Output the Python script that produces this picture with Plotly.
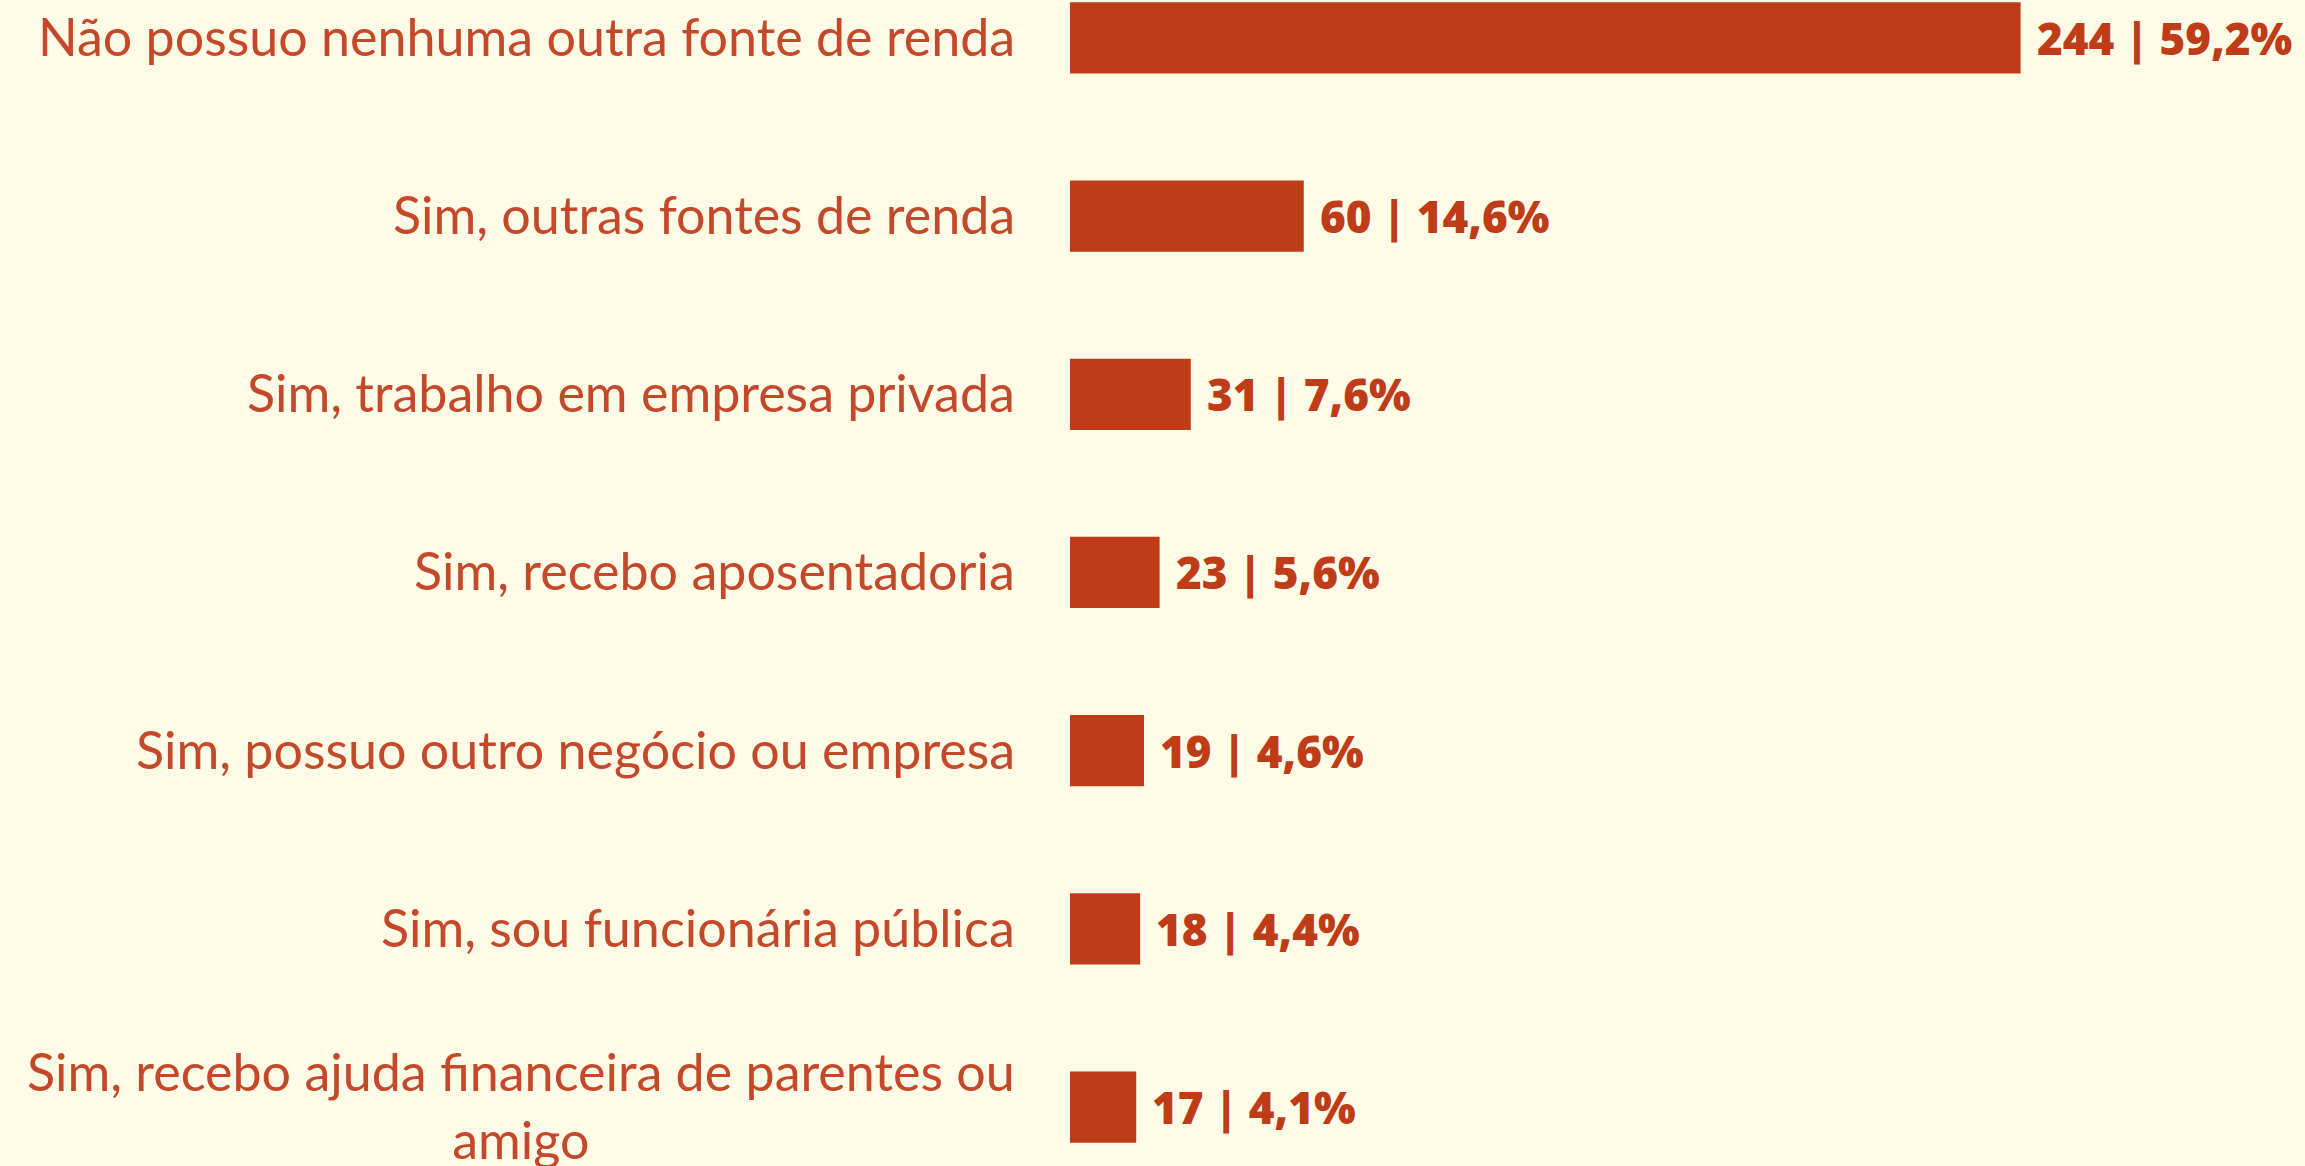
import plotly.graph_objects as go

categorias = [
    "Não possuo nenhuma outra fonte de renda",
    "Sim, outras fontes de renda",
    "Sim, trabalho em empresa privada",
    "Sim, recebo aposentadoria",
    "Sim, possuo outro negócio ou empresa",
    "Sim, sou funcionária pública",
    "Sim, recebo ajuda financeira de parentes ou<br>amigo",
]
respostas = [244, 60, 31, 23, 19, 18, 17]
percentuais = ["59,2%", "14,6%", "7,6%", "5,6%", "4,6%", "4,4%", "4,1%"]

cor_barra = "#BE3C18"
cor_texto = "#C4482A"
fundo = "#FFFBE7"

ids = list(range(len(categorias)))

fig = go.Figure()
fig.add_trace(go.Bar(
    x=respostas, y=ids, orientation="h",
    marker=dict(color=cor_barra, line_width=0),
    width=0.40, hoverinfo="skip",
))

# rótulos das categorias (centralizados quando quebram linha)
for i, cat in zip(ids, categorias):
    fig.add_annotation(x=0, xref="paper", y=i, yref="y", text=cat,
                       xanchor="right", yanchor="middle", align="center",
                       xshift=-53, yshift=2, showarrow=False,
                       font=dict(family="Lato", size=52, color=cor_texto))

# valores
for i, n, p in zip(ids, respostas, percentuais):
    fig.add_annotation(x=n, y=i, text=f"{n} | {p}", xanchor="left",
                       yanchor="middle", xshift=14, showarrow=False,
                       font=dict(family="Open Sans", size=44, color=cor_barra,
                                 weight=800))

fig.update_xaxes(range=[0, 317], visible=False)
fig.update_yaxes(range=[6.331, -0.213], visible=False)
fig.update_layout(
    width=2305, height=1166,
    margin=dict(l=1070, r=0, t=0, b=0),
    paper_bgcolor=fundo, plot_bgcolor=fundo,
    showlegend=False,
)

fig.write_html("out.html", config={"displayModeBar": False},
               post_script="document.body.style.margin='0';"
                           "document.body.style.background='%s';" % fundo)
